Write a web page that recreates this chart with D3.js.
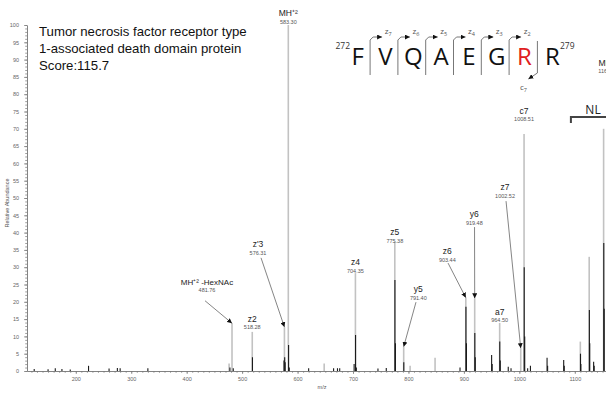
<!DOCTYPE html>
<html>
<head>
<meta charset="utf-8">
<script src="https://cdn.jsdelivr.net/npm/d3@7"></script>
<style>
  body { margin: 0; background: #fff; }
  svg { display: block; font-family: "Liberation Sans", Arial, sans-serif; }
</style>
</head>
<body>
<div id="chart"></div>
<script>
// annotated (light grey) sticks
const lightMz = [476.5, 481.76, 518.28, 576.31, 583.30, 648, 704.35, 775.38, 791.40, 803, 848, 903.44, 919.48, 964.50, 1002.52, 1008.51, 1110, 1126, 1152];
const lightInt = [2.2, 13.9, 11.3, 12.7, 100, 2.2, 28.3, 37.4, 7.0, 1.5, 3.8, 21.2, 21.0, 13.9, 6.6, 68.5, 8.5, 33, 70];

// dark profile sticks
const darkMz = [125, 150, 163, 175, 190, 223, 260, 275, 280, 330, 478, 484, 518.6, 575.5, 576.8, 577.6, 583.8, 585, 620, 665, 672, 676,
  702, 704.6, 706, 745, 760, 775.6, 776.5, 791.6, 893, 903.7, 904.6, 919.7, 920.5, 950, 951, 964.7, 965.6, 980, 985,
  1008.8, 1009.7, 1015, 1020, 1050, 1051, 1080, 1081, 1110.3, 1111, 1126.3, 1127, 1134, 1135, 1152.3, 1153];
const darkInt = [0.6, 0.5, 0.8, 0.6, 0.4, 1.5, 0.7, 0.9, 0.8, 0.8, 1.0, 0.8, 4, 3, 4, 2.5, 7.5, 1, 0.8, 0.8, 0.8, 0.8,
  2, 10.4, 1, 0.7, 0.9, 26.3, 8, 2.5, 1.0, 18.6, 8, 11, 4, 4.6, 2, 8.5, 3, 1.2, 0.8,
  30, 10, 0.8, 1.5, 3.8, 1.5, 3.2, 1.5, 5, 2, 17.6, 8, 2.7, 1.5, 37, 18];

// peak labels: name, m/z text, label centre m/z, label baseline intensity, arrow start [mz, int] or null, arrow tip intensity
const labelNames = ["MH\u207A\u00B2 -HexNAc", "z2", "z'3", "MH\u207A\u00B2", "z4", "z5", "y5", "z6", "y6", "a7", "z7", "c7", "MH\u207A\u00B2"];
const labelValues = ["481.76", "518.28", "576.31", "583.30", "704.35", "775.38", "791.40", "903.44", "919.48", "964.50", "1002.52", "1008.51", "1160.56"];
const labelPeakMz = [481.76, 518.28, 576.31, 583.30, 704.35, 775.38, 791.40, 903.44, 919.48, 964.50, 1002.52, 1008.51, 1160.56];
const labelMz = [436.7, 518.28, 528.7, 583.30, 704.35, 775.38, 817.8, 870.1, 918.8, 964.50, 974.2, 1008.51, 1160];
const labelInt = [24.9, 14.3, 35.8, 102.6, 30.6, 39.3, 22.8, 33.8, 44.5, 16.2, 52.3, 74.3, 88.2];
const arrowFrom = [[433.1, 20.3], null, [534.1, 32.7], null, null, null, [813.6, 19.9], [871.4, 31.2], [919.2, 41.6], null, [976, 49.1], null, null];
const arrowTipInt = [13.8, 0, 12.7, 0, 0, 0, 7.0, 21.2, 21.0, 0, 6.6, 0, 0];

const residues = ["F", "V", "Q", "A", "E", "G", "R", "R"];
const zIons = ["7", "6", "5", "4", "3", "2"];
const titleLines = ["Tumor necrosis factor receptor type", "1-associated death domain protein", "Score:115.7"];

const width = 606, height = 393;
const svg = d3.select("#chart").append("svg").attr("width", width).attr("height", height);

const defs = svg.append("defs");
defs.append("marker").attr("id", "arr").attr("viewBox", "0 0 6 6")
  .attr("refX", 6).attr("refY", 3).attr("markerWidth", 5).attr("markerHeight", 5)
  .attr("markerUnits", "userSpaceOnUse").attr("orient", "auto")
  .append("path").attr("d", "M0,0L6,3L0,6Z").attr("fill", "#111");

const x = d3.scaleLinear().domain([112, 1156.3]).range([27, 606]);
const y = d3.scaleLinear().domain([0, 100]).range([371, 25]);

// axes
svg.append("g").attr("transform", "translate(27,0)")
  .call(d3.axisLeft(y).tickValues(d3.range(0, 101, 5)).tickSize(3).tickPadding(5).tickSizeOuter(0));
svg.append("g").attr("transform", "translate(27,0)")
  .call(d3.axisLeft(y).tickValues(d3.range(0, 101, 1)).tickSize(1.8).tickFormat("").tickSizeOuter(0));
svg.append("g").attr("transform", "translate(0,371)")
  .call(d3.axisBottom(x).tickValues(d3.range(200, 1101, 100)).tickFormat(d3.format("d"))
    .tickSize(3).tickPadding(3).tickSizeOuter(0));
svg.append("g").attr("transform", "translate(0,371)")
  .call(d3.axisBottom(x).tickValues(d3.range(120, 1160, 10)).tickSize(1.8).tickFormat("").tickSizeOuter(0));
svg.selectAll(".domain, .tick line").attr("stroke", "#777").attr("stroke-width", 0.7);
svg.selectAll(".tick text").attr("fill", "#666").attr("font-size", 5.5);

svg.append("text").attr("transform", "translate(9,203) rotate(-90)").attr("text-anchor", "middle")
  .attr("font-size", 5.5).attr("fill", "#555").text("Relative Abundance");
svg.append("text").attr("x", 322).attr("y", 389).attr("text-anchor", "middle")
  .attr("font-size", 5.5).attr("fill", "#555").text("m/z");

// sticks
const plot = svg.append("g");
plot.selectAll(".light").data(d3.zip(lightMz, lightInt)).join("line").attr("class", "light")
  .attr("x1", d => x(d[0])).attr("x2", d => x(d[0]))
  .attr("y1", y(0)).attr("y2", d => y(d[1]))
  .attr("stroke", "#c2c2c2").attr("stroke-width", 1.6);
plot.selectAll(".dark").data(d3.zip(darkMz, darkInt)).join("line").attr("class", "dark")
  .attr("x1", d => x(d[0])).attr("x2", d => x(d[0]))
  .attr("y1", y(0)).attr("y2", d => y(d[1]))
  .attr("stroke", "#1a1a1a").attr("stroke-width", 1.1);

// peak labels
labelNames.forEach((name, i) => {
  const lx = x(labelMz[i]), ly = y(labelInt[i]);
  svg.append("text").attr("x", lx).attr("y", ly).attr("text-anchor", "middle")
    .attr("font-size", i === 0 ? 8 : 8.5).attr("fill", "#222").text(name);
  svg.append("text").attr("x", lx).attr("y", ly + 7.5).attr("text-anchor", "middle")
    .attr("font-size", 5.5).attr("fill", "#555").text(labelValues[i]);
  if (arrowFrom[i]) {
    svg.append("line")
      .attr("x1", x(arrowFrom[i][0])).attr("y1", y(arrowFrom[i][1]))
      .attr("x2", x(labelPeakMz[i])).attr("y2", y(arrowTipInt[i]))
      .attr("stroke", "#666").attr("stroke-width", 0.8).attr("marker-end", "url(#arr)");
  }
});

// title
svg.append("g").selectAll("text").data(titleLines).join("text")
  .attr("x", 39).attr("y", (d, i) => 36 + i * 17)
  .attr("font-size", 13.2).attr("fill", "#111").text(d => d);

// peptide sequence
const seqX = d3.scalePoint().domain(d3.range(residues.length)).range([357.7, 552.3]);
const seqFont = '"Open Sans", "Noto Sans", sans-serif';
svg.append("g").selectAll("text").data(residues).join("text")
  .attr("x", (d, i) => seqX(i)).attr("y", 65).attr("text-anchor", "middle")
  .attr("font-family", seqFont).attr("font-size", 24)
  .attr("fill", (d, i) => i === 6 ? "#e02020" : "#111").text(d => d);
svg.append("text").attr("x", 350).attr("y", 49).attr("text-anchor", "end")
  .attr("font-family", seqFont).attr("font-size", 8.5).attr("fill", "#333").text("272");
svg.append("text").attr("x", 560).attr("y", 49).attr("text-anchor", "start")
  .attr("font-family", seqFont).attr("font-size", 8.5).attr("fill", "#333").text("279");

zIons.forEach((n, i) => {
  const bx = (seqX(i) + seqX(i + 1)) / 2 - 1.5;
  svg.append("path").attr("d", `M${bx},75V40L${bx + 3},37H${bx + 12}`)
    .attr("fill", "none").attr("stroke", "#777").attr("stroke-width", 1)
    .attr("marker-end", "url(#arr)");
  const t = svg.append("text").attr("x", bx + 18).attr("y", 34).attr("text-anchor", "middle")
    .attr("font-family", seqFont).attr("font-size", 8).attr("fill", "#555");
  t.append("tspan").text("z");
  t.append("tspan").attr("dy", 2).attr("font-size", 5.5).text(n);
});
{
  const bx = (seqX(6) + seqX(7)) / 2 - 1;
  svg.append("path").attr("d", `M${bx},41V73L${bx - 9},79`)
    .attr("fill", "none").attr("stroke", "#777").attr("stroke-width", 1)
    .attr("marker-end", "url(#arr)");
  const t = svg.append("text").attr("x", bx - 14).attr("y", 90).attr("text-anchor", "middle")
    .attr("font-family", seqFont).attr("font-size", 8).attr("fill", "#555");
  t.append("tspan").text("c");
  t.append("tspan").attr("dy", 2).attr("font-size", 5.5).text("7");
}

// neutral loss bracket
svg.append("path").attr("d", `M${x(1093)},123V117H${width + 2}`)
  .attr("fill", "none").attr("stroke", "#444").attr("stroke-width", 2);
svg.append("text").attr("x", 593).attr("y", 114).attr("text-anchor", "middle")
  .attr("font-family", seqFont).attr("font-size", 12).attr("fill", "#222").text("NL");
</script>
</body>
</html>
